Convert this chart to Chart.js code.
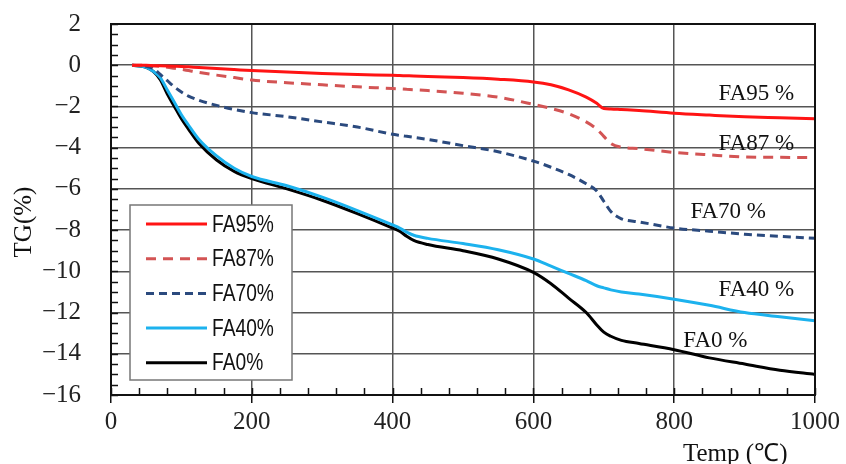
<!DOCTYPE html>
<html>
<head>
<meta charset="utf-8">
<script src="https://cdn.jsdelivr.net/npm/chart.js@4.4.1/dist/chart.umd.min.js"></script>
<style>
  html, body { margin: 0; padding: 0; background: #fff; }
  canvas { display: block; }
</style>
</head>
<body>
<canvas id="chart" width="846" height="464"></canvas>
<script>
// temperature points (°C) shared by every curve
const temps = [30, 50, 60, 70, 80, 90, 100, 110, 125, 150, 175, 200, 250, 300, 350, 400, 410, 420, 430, 450,
  500, 550, 600, 625, 650, 675, 690, 700, 710, 725, 750, 800, 850, 900, 950, 1000];

// TG (%)
const fa95 = [0, 0, -0.02, -0.03, -0.04, -0.05, -0.06, -0.08, -0.11, -0.16, -0.21, -0.26, -0.33, -0.4, -0.45, -0.49,
  -0.5, -0.51, -0.52, -0.55, -0.6, -0.68, -0.81, -0.95, -1.2, -1.55, -1.85, -2.1, -2.12, -2.15, -2.2, -2.33, -2.42, -2.5, -2.55, -2.6];
const fa87 = [0, -0.01, -0.03, -0.06, -0.1, -0.15, -0.2, -0.26, -0.35, -0.48, -0.6, -0.72, -0.85, -0.95, -1.05, -1.13,
  -1.15, -1.17, -1.19, -1.23, -1.36, -1.55, -1.9, -2.1, -2.35, -2.75, -3.1, -3.45, -3.8, -3.98, -4.05, -4.23, -4.35, -4.45, -4.47, -4.48];
const fa70 = [0, -0.05, -0.15, -0.45, -0.75, -1.05, -1.3, -1.5, -1.7, -1.95, -2.15, -2.3, -2.5, -2.75, -3.0, -3.35,
  -3.4, -3.45, -3.5, -3.6, -3.9, -4.2, -4.65, -4.95, -5.3, -5.75, -6.1, -6.6, -7.1, -7.45, -7.6, -7.9, -8.05, -8.2, -8.3, -8.4];
const fa40 = [0, -0.1, -0.3, -0.6, -1.2, -1.8, -2.4, -2.9, -3.6, -4.4, -5.0, -5.4, -5.85, -6.4, -7.05, -7.75,
  -7.9, -8.1, -8.25, -8.4, -8.65, -8.95, -9.4, -9.75, -10.1, -10.45, -10.7, -10.8, -10.9, -11.0, -11.1, -11.35, -11.65, -12.0, -12.2, -12.4];
const fa0 = [0, -0.1, -0.3, -0.7, -1.4, -2.0, -2.6, -3.1, -3.8, -4.6, -5.15, -5.5, -6.0, -6.55, -7.2, -7.9,
  -8.05, -8.3, -8.5, -8.7, -9.0, -9.4, -10.05, -10.6, -11.3, -12.0, -12.6, -12.95, -13.15, -13.35, -13.5, -13.8, -14.2, -14.5, -14.8, -15.0];

const legendNames = ['FA95%', 'FA87%', 'FA70%', 'FA40%', 'FA0%'];
const curveLabels = ['FA95 %', 'FA87 %', 'FA70 %', 'FA40 %', 'FA0 %'];
// where the curve labels sit, in data units (temp, TG)
const curveLabelAt = [[863, -1.41], [863, -3.83], [823, -7.14], [863, -10.92], [813, -13.4]];

const xTicks = [0, 200, 400, 600, 800, 1000];
const yTicks = [2, 0, -2, -4, -6, -8, -10, -12, -14, -16];

const serif = "'Liberation Serif', 'Times New Roman', serif";
const sans = "'Liberation Sans', Arial, sans-serif";

const pts = arr => temps.map((t, i) => ({ x: t, y: arr[i] }));

const series = [
  { data: fa95, color: '#ff1414', dash: [] },
  { data: fa87, color: '#d35454', dash: [10, 7] },
  { data: fa70, color: '#2b4a7e', dash: [8, 5] },
  { data: fa40, color: '#1cb2ee', dash: [] },
  { data: fa0, color: '#000000', dash: [] }
];

const decor = {
  id: 'decor',
  afterDraw(chart) {
    const ctx = chart.ctx;
    const a = chart.chartArea;
    const xs = chart.scales.x, ys = chart.scales.y;
    ctx.save();

    // minor ticks pointing inward
    ctx.strokeStyle = '#111';
    ctx.lineWidth = 1.5;
    ctx.beginPath();
    for (let t = 0; t <= 1000; t += 40) {
      const px = Math.round(xs.getPixelForValue(t)) + 0.5;
      ctx.moveTo(px, a.bottom);
      ctx.lineTo(px, a.bottom - 7);
    }
    for (let v = -16; v <= 2; v += 0.5) {
      const py = Math.round(ys.getPixelForValue(v)) + 0.5;
      ctx.moveTo(a.left, py);
      ctx.lineTo(a.left + 7, py);
    }
    ctx.stroke();

    // frame
    ctx.strokeStyle = '#111';
    ctx.lineWidth = 2;
    ctx.strokeRect(a.left, a.top, a.right - a.left, a.bottom - a.top);

    // legend box
    const bx = 130, by = 205, bw = 162, bh = 175;
    ctx.fillStyle = '#fff';
    ctx.fillRect(bx, by, bw, bh);
    ctx.strokeStyle = '#777';
    ctx.lineWidth = 1.5;
    ctx.strokeRect(bx, by, bw, bh);
    ctx.font = '24px ' + sans;
    ctx.textBaseline = 'middle';
    ctx.textAlign = 'left';
    chart.data.datasets.forEach((ds, i) => {
      const y = 224 + i * 34.7;
      ctx.strokeStyle = ds.borderColor;
      ctx.lineWidth = 3;
      ctx.setLineDash(ds.borderDash || []);
      ctx.beginPath();
      ctx.moveTo(146, y);
      ctx.lineTo(207, y);
      ctx.stroke();
      ctx.setLineDash([]);
      ctx.fillStyle = '#111';
      // narrow gothic look: squeeze the text horizontally
      ctx.save();
      ctx.translate(212, y + 1);
      ctx.scale(0.8, 1);
      ctx.fillText(ds.label, 0, 0);
      ctx.restore();
    });

    // curve labels
    ctx.font = '23px ' + serif;
    ctx.fillStyle = '#111';
    curveLabels.forEach((txt, i) => {
      const p = curveLabelAt[i];
      ctx.fillText(txt, xs.getPixelForValue(p[0]), ys.getPixelForValue(p[1]));
    });

    // axis titles
    ctx.font = '25px ' + serif;
    ctx.textBaseline = 'alphabetic';
    ctx.fillText('Temp (℃)', 683, 461);
    ctx.translate(31, 222);
    ctx.rotate(-Math.PI / 2);
    ctx.textAlign = 'center';
    ctx.fillText('TG(%)', 0, 0);
    ctx.restore();
  }
};

new Chart(document.getElementById('chart'), {
  type: 'line',
  data: {
    datasets: series.map((s, i) => ({
      label: legendNames[i],
      data: pts(s.data),
      borderColor: s.color,
      backgroundColor: s.color,
      borderDash: s.dash,
      borderWidth: 3,
      pointRadius: 0,
      cubicInterpolationMode: 'monotone',
      fill: false
    }))
  },
  options: {
    responsive: false,
    animation: false,
    devicePixelRatio: 1,
    layout: { padding: { top: 24, right: 31, left: 0, bottom: 0 } },
    plugins: { legend: { display: false }, tooltip: { enabled: false } },
    scales: {
      x: {
        type: 'linear',
        min: 0,
        max: 1000,
        afterBuildTicks: s => { s.ticks = xTicks.map(v => ({ value: v })); },
        afterFit: s => { s.height = 69; s.paddingLeft = 0; s.paddingRight = 0; },
        ticks: {
          font: { family: serif, size: 25 }, color: '#222', padding: 4, maxRotation: 0,
          callback: v => String(v)
        },
        grid: { color: '#555', lineWidth: 1.5, tickLength: 8, tickColor: '#111' },
        border: { color: '#111', width: 2 }
      },
      y: {
        min: -16,
        max: 2,
        afterBuildTicks: s => { s.ticks = yTicks.map(v => ({ value: v })); },
        afterFit: s => { s.width = 111; s.paddingTop = 0; s.paddingBottom = 0; },
        ticks: {
          font: { family: serif, size: 25 }, color: '#222', padding: 30,
          callback: v => (v < 0 ? '\u2212' + Math.abs(v) : String(v))
        },
        grid: { color: '#555', lineWidth: 1.5, drawTicks: false },
        border: { color: '#111', width: 2 }
      }
    }
  },
  plugins: [decor]
});
</script>
</body>
</html>
